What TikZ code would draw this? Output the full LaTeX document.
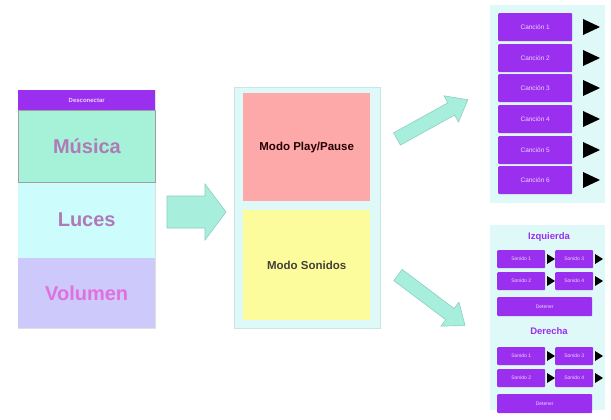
\documentclass[tikz,border=0pt]{standalone}
\usepackage{fontspec}
\setmainfont{Liberation Sans}
\definecolor{purp}{HTML}{9B2FF0}
\definecolor{mint}{HTML}{A6F2D8}
\definecolor{lcyan}{HTML}{CCFCFC}
\definecolor{lav}{HTML}{CDC9FA}
\definecolor{pnl}{HTML}{DFF8F8}
\definecolor{pnlb}{HTML}{C8E6E6}
\definecolor{redb}{HTML}{FDA9AA}
\definecolor{yelb}{HTML}{FCFC9C}
\definecolor{arr}{HTML}{A8EEDC}
\definecolor{arrb}{HTML}{8CCFC0}
\definecolor{mtxt}{HTML}{B07AB8}
\definecolor{vtxt}{HTML}{E070E0}
\tikzset{
  box/.style={draw=none, inner sep=0pt, anchor=north west},
  pbtn/.style={fill=purp, draw=none, rounded corners=1pt, inner sep=0pt, anchor=north west, text=white!80!purp, font=\fontsize{5}{6}\selectfont},
  tri/.style={fill=black, draw=none},
  bigarrow/.style={fill=arr, draw=arrb, line width=0.6pt, line join=miter},
}
% fat arrow: #1 shaft half width, #2 head half width, #3 head length, #4 total length
\newcommand{\fatarrow}[4]{(0,-#1) -- (#4-#3,-#1) -- (#4-#3,-#2) -- (#4,0) -- (#4-#3,#2) -- (#4-#3,#1) -- (0,#1) -- cycle}
\begin{document}
\begin{tikzpicture}[x=1pt,y=-1pt]
\useasboundingbox (0,0) rectangle (611,420);
% left panel
\node[box, draw=gray!25, line width=0.6pt, minimum width=137pt, minimum height=238pt] (lp) at (18,90) {};
\node[box, fill=purp, minimum width=137pt, minimum height=20pt, text=white!80!purp, font=\fontsize{6}{7}\selectfont\bfseries] (top) at (18,90) {Desconectar};
\node[box, fill=lcyan, minimum width=137pt, minimum height=76pt, text=mtxt, font=\fontsize{20}{24}\selectfont\bfseries] (luc) at (18,182) {Luces};
\node[box, fill=lav, minimum width=137pt, minimum height=70pt, text=vtxt, font=\fontsize{20}{24}\selectfont\bfseries] (vol) at (18,258) {Volumen};
\node[box, fill=mint, draw=gray!75, line width=0.9pt, minimum width=137pt, minimum height=72pt, text=mtxt, font=\fontsize{20}{24}\selectfont\bfseries] (mus) at (18,110) {Música};
% arrow 1
\begin{scope}[shift={(167,212)}]
\draw[bigarrow] \fatarrow{16}{28}{21}{59};
\end{scope}
% middle panel
\node[box, fill=pnl, draw=pnlb, line width=0.8pt, minimum width=146pt, minimum height=241pt] (mid) at (234,87) {};
\node[box, fill=redb, minimum width=127pt, minimum height=108pt, font=\fontsize{11.5}{13}\selectfont\bfseries, text=black!85!red] (pp) at (243,93) {Modo Play/Pause};
\node[box, fill=yelb, minimum width=127pt, minimum height=110pt, font=\fontsize{11.5}{13}\selectfont\bfseries, text=black!85!yellow] (ms) at (243,210) {Modo Sonidos};
% diagonal arrows
\begin{scope}[shift={(397,139)}, rotate=29]
\draw[bigarrow] \fatarrow{7}{15}{19}{81};
\end{scope}
\begin{scope}[shift={(398,275)}, rotate=-37]
\draw[bigarrow] \fatarrow{7}{15}{19}{84};
\end{scope}
% top right panel
\node[box, fill=pnl, minimum width=115pt, minimum height=198pt] (tr) at (490,5) {};
\foreach \i/\y in {1/13,2/44,3/74,4/105,5/136,6/166}{
  \node[pbtn, minimum width=74pt, minimum height=28pt, font=\fontsize{6.5}{8}\selectfont] (c\i) at (498,\y) {Canción \i};
  \fill[tri] (583,\y+6) -- (600,\y+14) -- (583,\y+22) -- cycle;
}
% bottom right panel
\node[box, fill=pnl, minimum width=115pt, minimum height=185pt] (br) at (490,225) {};
\node[text=purp, font=\fontsize{9.5}{11}\selectfont\bfseries] (izq) at (549,237) {Izquierda};
\node[text=purp, font=\fontsize{9.5}{11}\selectfont\bfseries] (der) at (549,331) {Derecha};
\foreach \yy/\pre in {250/i,347/d}{
  \node[pbtn, minimum width=48pt, minimum height=18pt] (\pre s1) at (497,\yy) {Sonido 1};
  \node[pbtn, minimum width=38pt, minimum height=18pt] (\pre s3) at (555,\yy) {Sonido 3};
  \node[pbtn, minimum width=48pt, minimum height=18pt] (\pre s2) at (497,\yy+22) {Sonido 2};
  \node[pbtn, minimum width=38pt, minimum height=18pt] (\pre s4) at (555,\yy+22) {Sonido 4};
  \node[pbtn, minimum width=95pt, minimum height=19pt] (\pre st) at (497,\yy+47) {Detener};
  \foreach \dy in {0,22}{
    \fill[tri] (547,\yy+\dy+4) -- (555,\yy+\dy+9) -- (547,\yy+\dy+14) -- cycle;
    \fill[tri] (595,\yy+\dy+4) -- (603,\yy+\dy+9) -- (595,\yy+\dy+14) -- cycle;
  }
}
\end{tikzpicture}
\end{document}
